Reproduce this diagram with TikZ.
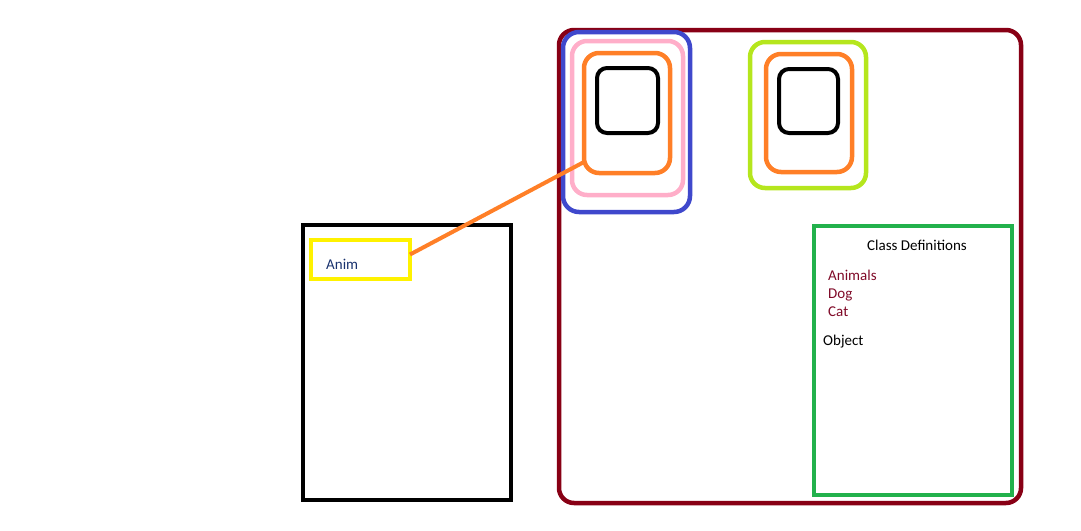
\documentclass[tikz,border=0pt]{standalone}
\usepackage{fontspec}
\setmainfont{Carlito}
\usepackage{tikz}
\usetikzlibrary{arrows.meta,positioning,calc}

\definecolor{frameRed}{RGB}{136,0,21}
\definecolor{paintBlue}{RGB}{63,72,204}
\definecolor{paintPink}{RGB}{255,174,201}
\definecolor{paintOrange}{RGB}{255,127,39}
\definecolor{paintLime}{RGB}{181,230,29}
\definecolor{paintGreen}{RGB}{34,177,76}
\definecolor{paintYellow}{RGB}{255,242,0}
\definecolor{animBlue}{RGB}{25,50,110}
\definecolor{className}{RGB}{128,10,40}

\begin{document}
\begin{tikzpicture}[x=1pt, y=-1pt, font=\fontsize{15}{18}\selectfont]
  \tikzstyle{box}=[draw, inner sep=0pt, outer sep=0pt, line width=4.5pt]
  \tikzstyle{rbox}=[box, rounded corners=15pt]
  \useasboundingbox (0,0) rectangle (1081,530);
  % heap area
  \node[rbox, draw=frameRed, minimum width=462pt, minimum height=473pt] (heap) at (790,266.5) {};
  % first object, nested
  \node[rbox, draw=paintBlue, minimum width=127pt, minimum height=180pt, rounded corners=16pt] (outer1) at (626.5,122) {};
  \node[rbox, draw=paintPink, minimum width=111pt, minimum height=154pt] (mid1) at (627.5,118) {};
  \node[rbox, draw=paintOrange, minimum width=86pt, minimum height=120pt] (inst1) at (627,113) {};
  \node[rbox, draw=black, line width=4pt, minimum width=61pt, minimum height=65pt, rounded corners=10pt] (core1) at (627.5,100.5) {};
  % second object
  \node[rbox, draw=paintLime, minimum width=116pt, minimum height=146pt] (outer2) at (808,115) {};
  \node[rbox, draw=paintOrange, minimum width=86pt, minimum height=118pt] (inst2) at (809,113) {};
  \node[rbox, draw=black, line width=4pt, minimum width=59pt, minimum height=64pt, rounded corners=10pt] (core2) at (808.5,101) {};
  % class definitions
  \node[box, draw=paintGreen, minimum width=198pt, minimum height=269pt] (classes) at (913,360.5) {};
  \node[anchor=base] (clsTitle) at (917,250) {Class Definitions};
  \node[anchor=base west, inner sep=0pt, text=className] (clsAnimals) at (828,280) {Animals};
  \node[anchor=base west, inner sep=0pt, text=className] (clsDog) at (828,298) {Dog};
  \node[anchor=base west, inner sep=0pt, text=className] (clsCat) at (828,316) {Cat};
  \node[anchor=base west, inner sep=0pt] (clsObject) at (823,345) {Object};
  % stack with the reference
  \node[box, draw=black, line width=4pt, minimum width=208pt, minimum height=275pt] (stack) at (407,362.5) {};
  \node[box, draw=paintYellow, minimum width=99pt, minimum height=39pt] (anim) at (360.5,259.5) {};
  \node[anchor=base west, inner sep=0pt, text=animBlue] (animLabel) at (326,269) {Anim};
  \draw[paintOrange, line width=4pt] ($(anim.east)+(0,-5)$) -- ($(inst1.west)+(0,49)$);
\end{tikzpicture}
\end{document}
